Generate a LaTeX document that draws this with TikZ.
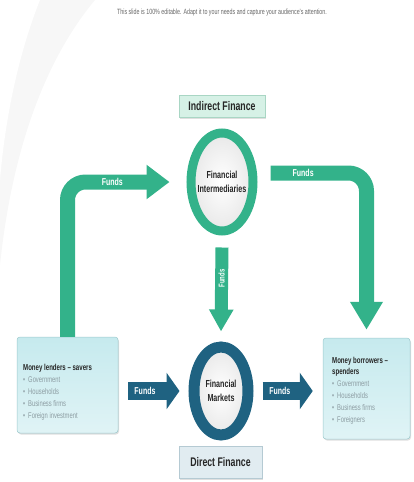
\documentclass[tikz,border=0pt]{standalone}
\usepackage{fontspec}
\setmainfont[FakeStretch=0.7, BoldFont={Liberation Sans Bold}, BoldFeatures={FakeStretch=0.7}]{Liberation Sans}
\usetikzlibrary{arrows.meta,positioning,shapes.geometric,shadows}
\definecolor{fgreen}{HTML}{33B28A}
\definecolor{fteal}{HTML}{1F6281}
\definecolor{txtdark}{HTML}{262626}
\definecolor{bulgray}{HTML}{8C9CA2}
\definecolor{mint}{HTML}{D6F1E6}
\definecolor{mintline}{HTML}{A9D6C4}
\definecolor{pale}{HTML}{E1ECF1}
\definecolor{paleline}{HTML}{B5CAD3}
\definecolor{cyanbox}{HTML}{C6EAEE}
\definecolor{cyanline}{HTML}{9CC9CC}
\newcommand{\headln}[1]{\textbf{\fontsize{8.7}{12}\selectfont\textcolor{txtdark}{#1}}}

\begin{document}
\begin{tikzpicture}[
  x=1pt, y=-1pt,
  shad/.style={drop shadow={opacity=0.25, shadow xshift=1pt, shadow yshift=-1.5pt}},
  tagbox/.style={draw=#1, line width=0.6pt, shad, inner sep=0pt, font=\bfseries\fontsize{12.5}{14}\selectfont, text=txtdark},
  side/.style={draw=cyanline, line width=0.5pt, rounded corners=3pt, shad, top color=cyanbox, bottom color=cyanbox!55},
  ring/.style={ellipse, draw=#1, line width=9pt, inner sep=0pt, inner color=white, outer color=black!9, shad},
  ctxt/.style={align=center, font=\bfseries\fontsize{10.2}{14}\selectfont, text=txtdark},
  btxt/.style={align=left, font=\fontsize{8.3}{12}\selectfont, text=bulgray, inner sep=0pt},
  lbl/.style={font=\bfseries\fontsize{10}{12}\selectfont, text=white},
  garr/.style={draw=fgreen, line width=15pt, rounded corners=18pt, -{Triangle[width=33pt, length=23pt]}},
  darr/.style={draw=fteal, line width=18pt, -{Triangle[width=36pt, length=13pt]}}
]
\useasboundingbox (0,0) rectangle (414,482);

% faint swoosh in the corner
\fill[black!3] (0,0) -- (95,0) .. controls (45,60) and (12,150) .. (0,265) -- cycle;
\fill[white] (0,0) -- (40,0) .. controls (18,55) and (5,120) .. (0,180) -- cycle;

\node[font=\fontsize{7.6}{8}\selectfont, text=black!60] (sub) at (222,13)
  {This slide is 100\% editable. Adapt it to your needs and capture your audience's attention.};

% boxes
\node[tagbox=mintline, fill=mint, minimum width=86pt, minimum height=22pt] (indir) at (222,106) {Indirect Finance};
\node[tagbox=paleline, fill=pale, minimum width=83pt, minimum height=32pt] (dir) at (220.5,462) {Direct Finance};
\node[side, minimum width=101pt, minimum height=96pt] (lend) at (67.5,385) {};
\node[side, minimum width=87pt, minimum height=101pt] (borrow) at (366.5,388.5) {};

\node[btxt, anchor=north west] (lendtxt) at (23,364)
  {\headln{Money lenders -- savers}\\
   \textbullet\hspace{3pt}Government\\
   \textbullet\hspace{3pt}Households\\
   \textbullet\hspace{3pt}Business firms\\
   \textbullet\hspace{3pt}Foreign investment};
\node[btxt, anchor=north west] (borrowtxt) at (332,357)
  {\headln{Money borrowers --}\\[-1pt]
   \headln{spenders}\\
   \textbullet\hspace{3pt}Government\\
   \textbullet\hspace{3pt}Households\\
   \textbullet\hspace{3pt}Business firms\\
   \textbullet\hspace{3pt}Foreigners};

% rings
\node[ring=fgreen, minimum width=62pt, minimum height=98pt] (fi) at (222,182) {};
\node[ctxt] (fitxt) at (fi.center) {Financial\\Intermediaries};
\node[ring=fteal, line width=11pt, minimum width=54pt, minimum height=88pt] (fm) at (221,391) {};
\node[ctxt] (fmtxt) at (fm.center) {Financial\\Markets};

% green arrows
\draw[garr] (lend.north) |- node[lbl, pos=0.72] {Funds} ([shift={(-17,0)}]fi.west);
\draw[garr, -{Triangle[width=31pt, length=28pt]}] ([shift={(13,-9)}]fi.east) -| node[lbl, pos=0.17] {Funds} ([shift={(0,-8)}]borrow.north);
\draw[garr, line width=13pt, -{Triangle[width=23pt, length=22pt]}]
  ([shift={(0,12)}]fi.south) -- node[lbl, pos=0.37, rotate=90, font=\bfseries\fontsize{8.5}{9}\selectfont] {Funds} ([shift={(0,-10)}]fm.north);

% teal arrows
\draw[darr, shorten <=10pt, shorten >=9pt] (fm.west -| lend.east) -- node[lbl, pos=0.38] {Funds} (fm.west);
\draw[darr, shorten <=9pt, shorten >=10pt] (fm.east) -- node[lbl, pos=0.38] {Funds} (fm.east -| borrow.west);
\end{tikzpicture}
\end{document}
